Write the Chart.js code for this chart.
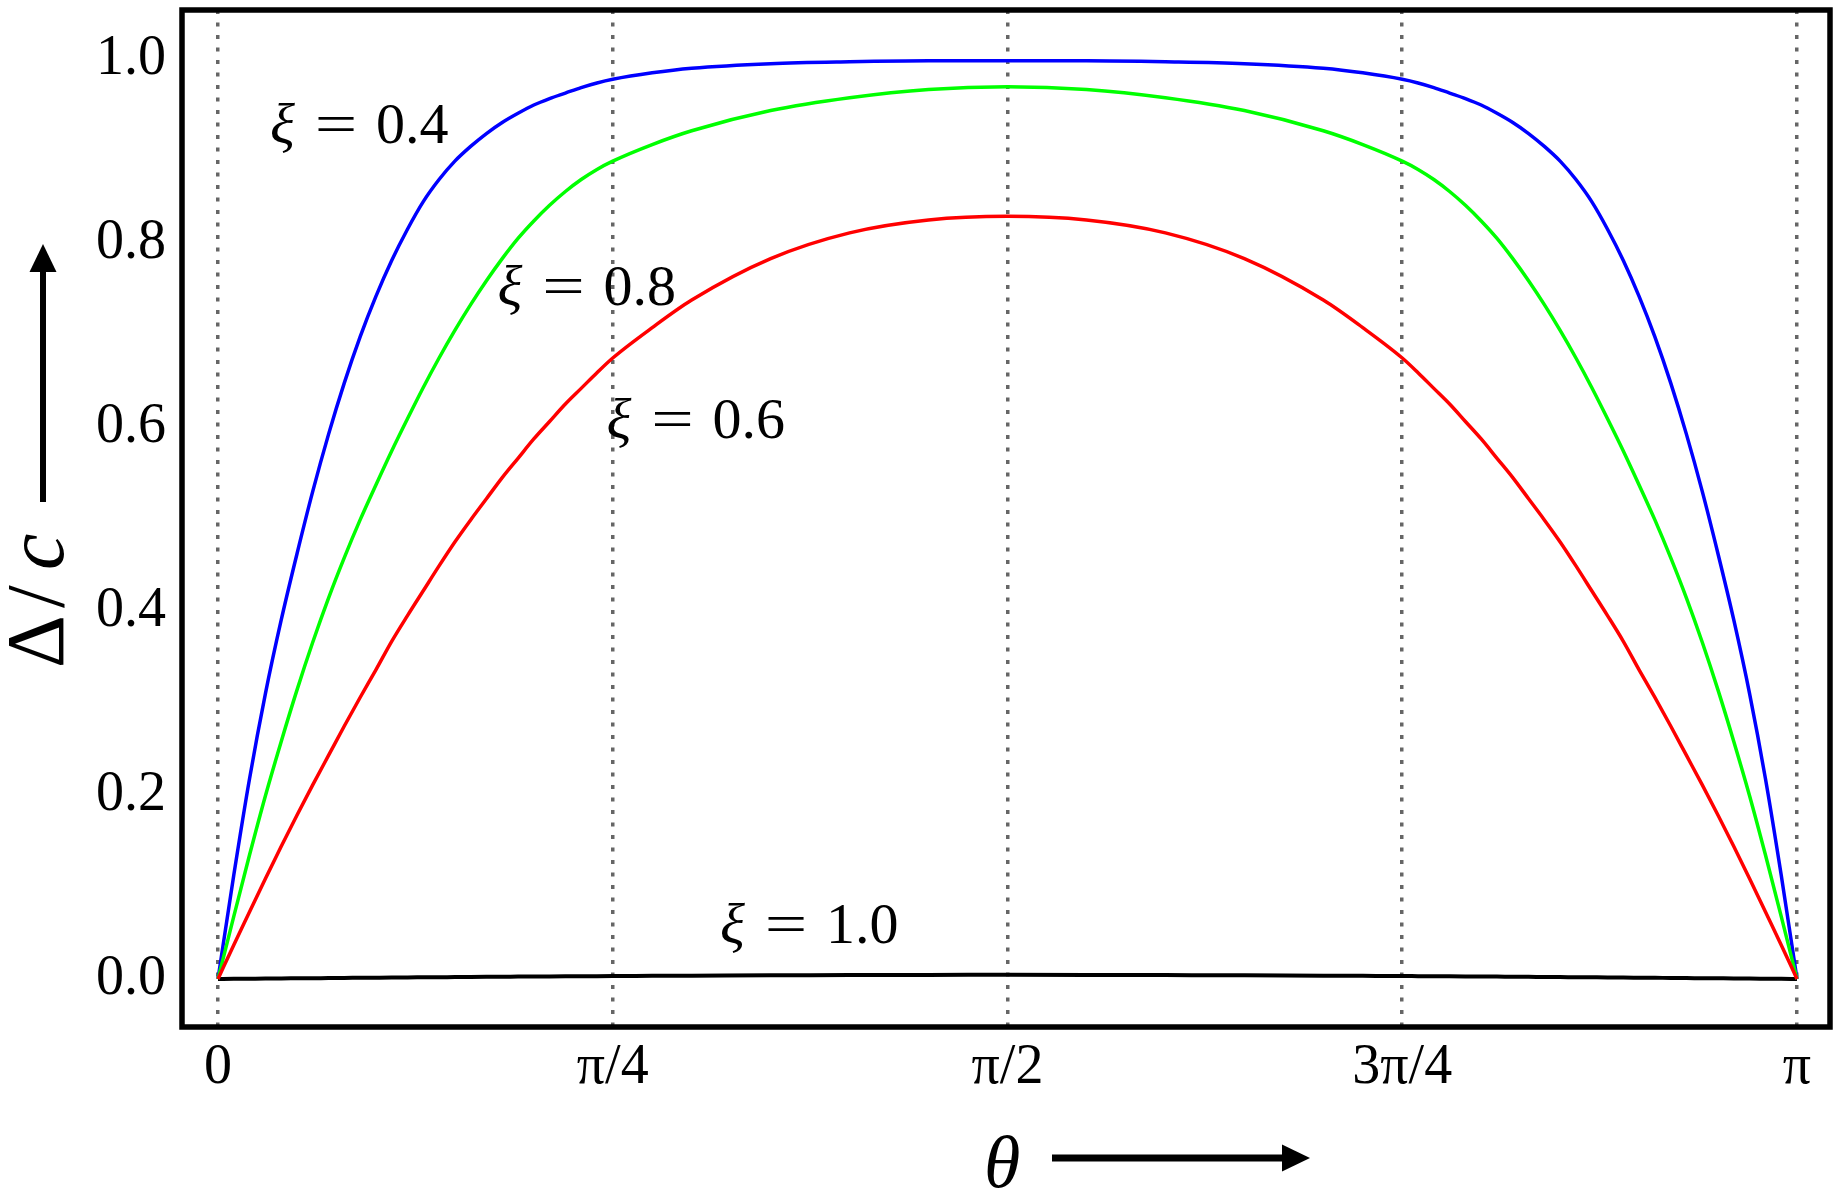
<!DOCTYPE html>
<html>
<head>
<meta charset="utf-8">
<script src="https://cdn.jsdelivr.net/npm/chart.js@4.4.0/dist/chart.umd.min.js"></script>
<style>
  html, body { margin: 0; padding: 0; background: #fff; }
  #wrap { width: 1844px; height: 1193px; position: relative; }
</style>
</head>
<body>
<div id="wrap"><canvas id="gapChart"></canvas></div>
<script>
// theta, in units of pi
const theta = [0, 0.01, 0.02, 0.03, 0.04, 0.05, 0.06, 0.07, 0.08, 0.09, 0.10, 0.11, 0.12, 0.13, 0.14, 0.15, 0.16, 0.17, 0.18, 0.19, 0.20,
               0.21, 0.22, 0.23, 0.24, 0.25, 0.275, 0.30, 0.35, 0.40, 0.45, 0.50,
               0.55, 0.60, 0.65, 0.70, 0.725, 0.75, 0.76, 0.77, 0.78, 0.79, 0.80, 0.81, 0.82, 0.83, 0.84, 0.85, 0.86, 0.87, 0.88, 0.89,
               0.90, 0.91, 0.92, 0.93, 0.94, 0.95, 0.96, 0.97, 0.98, 0.99, 1.00];

// Delta / c for each xi
const gapXi04 = [0, 0.113, 0.218, 0.310, 0.390, 0.462, 0.530, 0.592, 0.648, 0.698, 0.742, 0.781, 0.815, 0.845, 0.869, 0.889, 0.905, 0.919, 0.931, 0.941, 0.950,
                 0.957, 0.963, 0.969, 0.974, 0.978, 0.985, 0.990, 0.995, 0.997, 0.998, 0.998,
                 0.998, 0.997, 0.995, 0.990, 0.985, 0.978, 0.974, 0.969, 0.963, 0.957, 0.950, 0.941, 0.931, 0.919, 0.905, 0.889, 0.869, 0.845, 0.815, 0.781,
                 0.742, 0.698, 0.648, 0.592, 0.530, 0.462, 0.390, 0.310, 0.218, 0.113, 0];
const gapXi08 = [0, 0.068, 0.135, 0.199, 0.258, 0.314, 0.366, 0.414, 0.458, 0.499, 0.537, 0.574, 0.609, 0.643, 0.675, 0.705, 0.733, 0.759, 0.783, 0.805, 0.824,
                 0.841, 0.856, 0.869, 0.880, 0.889, 0.907, 0.922, 0.944, 0.958, 0.967, 0.970,
                 0.967, 0.958, 0.944, 0.922, 0.907, 0.889, 0.880, 0.869, 0.856, 0.841, 0.824, 0.805, 0.783, 0.759, 0.733, 0.705, 0.675, 0.643, 0.609, 0.574,
                 0.537, 0.499, 0.458, 0.414, 0.366, 0.314, 0.258, 0.199, 0.135, 0.068, 0];
const gapXi06 = [0, 0.037, 0.073, 0.109, 0.144, 0.178, 0.211, 0.243, 0.275, 0.306, 0.336, 0.367, 0.395, 0.422, 0.449, 0.475, 0.499, 0.522, 0.545, 0.566, 0.587,
                 0.606, 0.625, 0.642, 0.659, 0.675, 0.708, 0.738, 0.783, 0.811, 0.825, 0.829,
                 0.825, 0.811, 0.783, 0.738, 0.708, 0.675, 0.659, 0.642, 0.625, 0.606, 0.587, 0.566, 0.545, 0.522, 0.499, 0.475, 0.449, 0.422, 0.395, 0.367,
                 0.336, 0.306, 0.275, 0.243, 0.211, 0.178, 0.144, 0.109, 0.073, 0.037, 0];
const gapXi10 = [0, 0.0002, 0.0003, 0.0004, 0.0006, 0.0007, 0.0008, 0.0010, 0.0011, 0.0013, 0.0014, 0.0015, 0.0017, 0.0018, 0.0019, 0.0021, 0.0022, 0.0023, 0.0024, 0.0026, 0.0027,
                 0.0028, 0.0029, 0.0030, 0.0031, 0.0032, 0.0034, 0.0036, 0.0040, 0.0042, 0.0044, 0.0045,
                 0.0044, 0.0042, 0.0040, 0.0036, 0.0034, 0.0032, 0.0031, 0.0030, 0.0029, 0.0028, 0.0027, 0.0026, 0.0024, 0.0023, 0.0022, 0.0021, 0.0019, 0.0018, 0.0017, 0.0015,
                 0.0014, 0.0013, 0.0011, 0.0010, 0.0008, 0.0007, 0.0006, 0.0004, 0.0003, 0.0002, 0];

const xTickValues = [0, 0.25, 0.5, 0.75, 1];
const xTickLabels = ['0', 'π/4', 'π/2', '3π/4', 'π'];
const yTickValues = [0, 0.2, 0.4, 0.6, 0.8, 1.0];

// curve labels: text value, anchor (theta/pi, Delta/c) of left end of baseline
const labelValues = ['0.4', '0.8', '0.6', '1.0'];
const labelTheta = [0.033, 0.177, 0.246, 0.318];
const labelGap = [0.909, 0.733, 0.588, 0.039];

const SERIF = '"Liberation Serif", "DejaVu Serif", serif';

function makeSeries(values) {
    return theta.map((t, i) => ({ x: t, y: values[i] }));
}

function arrow(ctx, x1, y1, x2, y2, shaft, headLen, headHalf) {
    const a = Math.atan2(y2 - y1, x2 - x1);
    const bx = x2 - headLen * Math.cos(a), by = y2 - headLen * Math.sin(a);
    ctx.strokeStyle = '#000';
    ctx.fillStyle = '#000';
    ctx.lineWidth = shaft;
    ctx.lineCap = 'butt';
    ctx.beginPath();
    ctx.moveTo(x1, y1);
    ctx.lineTo(bx, by);
    ctx.stroke();
    ctx.beginPath();
    ctx.moveTo(x2, y2);
    ctx.lineTo(bx - headHalf * Math.sin(a), by + headHalf * Math.cos(a));
    ctx.lineTo(bx + headHalf * Math.sin(a), by - headHalf * Math.cos(a));
    ctx.closePath();
    ctx.fill();
}

const decorPlugin = {
    id: 'decor',
    afterDraw(chart) {
        const ctx = chart.ctx;
        const a = chart.chartArea;
        const xs = chart.scales.x, ys = chart.scales.y;
        ctx.save();

        // frame
        ctx.strokeStyle = '#000';
        ctx.lineWidth = 5.5;
        ctx.strokeRect(a.left, a.top, a.right - a.left, a.bottom - a.top);

        // curve labels
        ctx.fillStyle = '#000';
        ctx.textBaseline = 'alphabetic';
        labelValues.forEach((val, i) => {
            const x0 = xs.getPixelForValue(labelTheta[i]);
            const y0 = ys.getPixelForValue(labelGap[i]);
            ctx.textAlign = 'left';
            ctx.font = 'italic 58px ' + SERIF;
            ctx.fillText('ξ', x0, y0);
            ctx.font = '58px ' + SERIF;
            ctx.textAlign = 'center';
            ctx.save();
            ctx.translate(x0 + 66, y0);
            ctx.scale(1.3, 1);
            ctx.fillText('=', 0, 0);
            ctx.restore();
            ctx.textAlign = 'left';
            ctx.fillText(val, x0 + 106, y0);
        });

        // x axis title + arrow
        ctx.font = 'italic 74px ' + SERIF;
        ctx.textAlign = 'left';
        ctx.fillText('θ', 984, 1187);
        arrow(ctx, 1052, 1158, 1310, 1158, 7, 28, 13.5);

        // y axis title + arrow
        ctx.save();
        ctx.translate(63, 668);
        ctx.rotate(-Math.PI / 2);
        ctx.textAlign = 'left';
        ctx.font = '82px ' + SERIF;
        ctx.fillText('Δ', 0, 0);
        ctx.fillText('/', 60, 0);
        ctx.font = 'italic 82px ' + SERIF;
        ctx.fillText('c', 98, 0);
        ctx.restore();
        arrow(ctx, 43, 502, 43, 244, 6, 28, 13.5);

        ctx.restore();
    }
};

const lineStyle = { borderWidth: 3.5, pointRadius: 0, fill: false, cubicInterpolationMode: 'monotone' };

new Chart(document.getElementById('gapChart'), {
    type: 'line',
    data: {
        datasets: [
            Object.assign({ label: 'ξ = 0.6', data: makeSeries(gapXi06), borderColor: '#ff0000' }, lineStyle),
            Object.assign({ label: 'ξ = 0.8', data: makeSeries(gapXi08), borderColor: '#00ff00' }, lineStyle),
            Object.assign({ label: 'ξ = 0.4', data: makeSeries(gapXi04), borderColor: '#0000ff' }, lineStyle),
            Object.assign({ label: 'ξ = 1.0', data: makeSeries(gapXi10), borderColor: '#000000' }, lineStyle, { borderWidth: 4 })
        ]
    },
    options: {
        responsive: true,
        maintainAspectRatio: false,
        animation: false,
        layout: { padding: { top: 10, right: 14, left: 0, bottom: 0 } },
        plugins: { legend: { display: false }, tooltip: { enabled: false } },
        scales: {
            x: {
                type: 'linear',
                min: -0.0228,
                max: 1.0209,
                afterBuildTicks: s => { s.ticks = xTickValues.map(v => ({ value: v })); },
                afterFit: s => { s.height = 166; s.paddingLeft = 0; s.paddingRight = 0; },
                ticks: {
                    callback: (v, i) => xTickLabels[i],
                    font: { family: SERIF, size: 56 },
                    color: '#000',
                    padding: 8,
                    maxRotation: 0,
                    autoSkip: false
                },
                grid: { color: '#666666', lineWidth: 3.5, drawTicks: false },
                border: { display: false, dash: [4, 8.5] }
            },
            y: {
                type: 'linear',
                min: -0.0522,
                max: 1.0533,
                afterBuildTicks: s => { s.ticks = yTickValues.map(v => ({ value: v })); },
                afterFit: s => { s.width = 182; s.paddingTop = 0; s.paddingBottom = 0; },
                ticks: {
                    callback: v => v.toFixed(1),
                    font: { family: SERIF, size: 56 },
                    color: '#000',
                    padding: 16
                },
                grid: { display: false, drawTicks: false },
                border: { display: false }
            }
        }
    },
    plugins: [decorPlugin]
});
</script>
</body>
</html>
